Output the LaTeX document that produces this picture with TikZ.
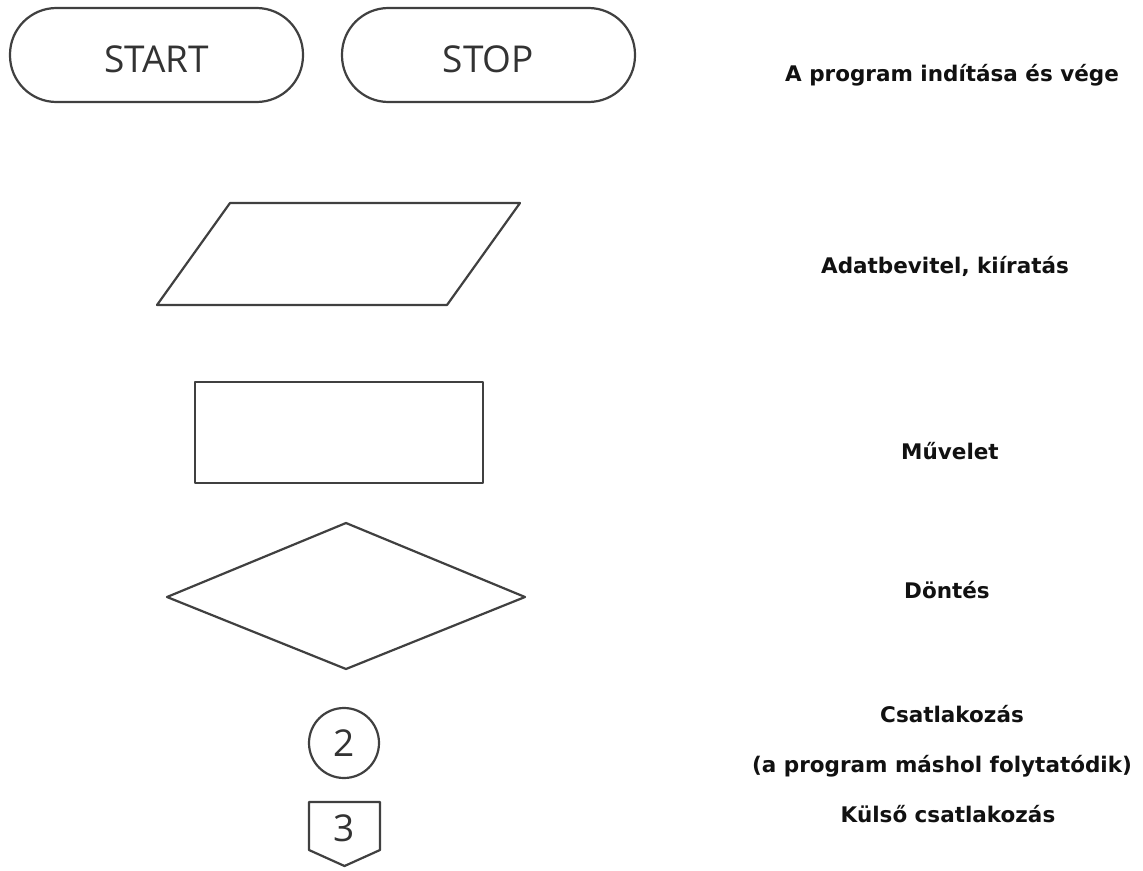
\documentclass[tikz,border=0pt]{standalone}
\usepackage{fontspec}
\setmainfont{Open Sans}
\newfontfamily\labfont{DejaVu Sans}
\definecolor{linec}{HTML}{404040}
\definecolor{txtc}{HTML}{333333}
\definecolor{labc}{HTML}{111111}
\tikzset{
  outl/.style={draw=linec, line width=2.2pt, line join=round},
  shapetxt/.style={text=txtc, font=\fontsize{37}{42}\selectfont},
  smalltxt/.style={text=txtc, font=\fontsize{37}{42}\selectfont},
  lab/.style={text=labc, font=\labfont\bfseries\fontsize{21.5}{25}\selectfont, anchor=center},
}
\begin{document}
\begin{tikzpicture}[x=1pt,y=-1pt]
\useasboundingbox (0,0) rectangle (1143,870);
\fill[white] (0,0) rectangle (1143,870);
% terminals
\draw[outl, rounded corners=46.5pt] (10,8) rectangle (303,102);
\node[shapetxt] (start) at (156.5,59) {START};
\draw[outl, rounded corners=46.5pt] (342,8) rectangle (635,102);
\node[shapetxt] (stop) at (488.5,59) {STOP};
% parallelogram
\draw[outl] (230,203) -- (520,203) -- (447,305) -- (157,305) -- cycle;
% rectangle
\draw[outl] (195,382) rectangle (483,483);
% diamond
\draw[outl] (346,523) -- (525,597) -- (346,669) -- (167,597) -- cycle;
% connector circle
\draw[outl] (344,743) circle[radius=35];
\node[smalltxt] (two) at (344,743) {2};
% off-page connector
\draw[outl] (309,802) -- (380,802) -- (380,850) -- (344.5,866) -- (309,850) -- cycle;
\node[smalltxt] (three) at (344.5,828) {3};
% labels
\node[lab] (l1) at (952,75) {A program indítása és vége};
\node[lab] (l2) at (945,266) {Adatbevitel, kiíratás};
\node[lab] (l3) at (950,451) {Művelet};
\node[lab] (l4) at (947,590) {Döntés};
\node[lab] (l5) at (952,714) {Csatlakozás};
\node[lab] (l6) at (942,766) {(a program máshol folytatódik)};
\node[lab] (l7) at (948,814) {Külső csatlakozás};
\end{tikzpicture}
\end{document}
